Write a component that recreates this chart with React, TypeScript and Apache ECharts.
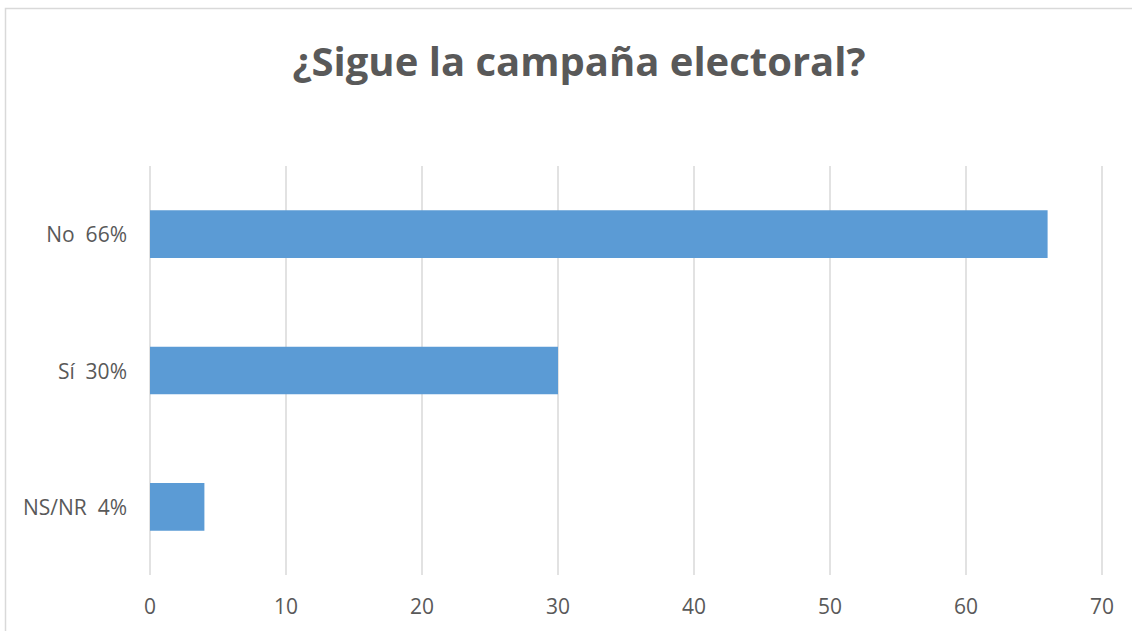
import React, { useEffect, useRef } from "react";
import * as echarts from "echarts";

const title = "¿Sigue la campaña electoral?";
const categories = ["NS/NR  4%", "Sí  30%", "No  66%"];
const values = [4, 30, 66];
const axisMin = 0;
const axisMax = 70;
const axisInterval = 10;

export default function App() {
  const ref = useRef<HTMLDivElement>(null);
  useEffect(() => {
    if (!ref.current) return;
    const chart = echarts.init(ref.current, null, { renderer: "svg" });
    chart.setOption({
      animation: false,
      backgroundColor: "#ffffff",
      title: {
        text: title,
        left: 574,
        top: 35,
        textAlign: "center",
        textStyle: {
          fontFamily: "Open Sans",
          fontWeight: "bold",
          fontSize: 40,
          color: "#595959",
        },
      },
      graphic: [
        {
          type: "rect",
          shape: { x: 5.5, y: 8.5, width: 1140, height: 700 },
          style: { fill: "none", stroke: "#d9d9d9", lineWidth: 1.5 },
          silent: true,
        },
      ],
      grid: { left: 150, right: 30, top: 166, bottom: 56, containLabel: false },
      xAxis: {
        type: "value",
        min: axisMin,
        max: axisMax,
        interval: axisInterval,
        axisLine: { show: false },
        axisTick: { show: false },
        splitLine: { show: true, lineStyle: { color: "#d9d9d9", width: 1.5 } },
        axisLabel: {
          color: "#595959",
          fontFamily: "Open Sans",
          fontSize: 21,
          margin: 20,
        },
      },
      yAxis: {
        type: "category",
        data: categories,
        axisLine: { show: false },
        axisTick: { show: false },
        splitLine: { show: false },
        axisLabel: {
          color: "#595959",
          fontFamily: "Open Sans",
          fontSize: 21,
          margin: 23,
        },
      },
      series: [
        {
          type: "bar",
          data: values,
          barWidth: "35%",
          itemStyle: { color: "#5b9bd5" },
        },
      ],
    });
    return () => chart.dispose();
  }, []);
  return (
    <div
      ref={ref}
      style={{ position: "absolute", left: 0, top: 0, width: 1132, height: 631 }}
    />
  );
}
